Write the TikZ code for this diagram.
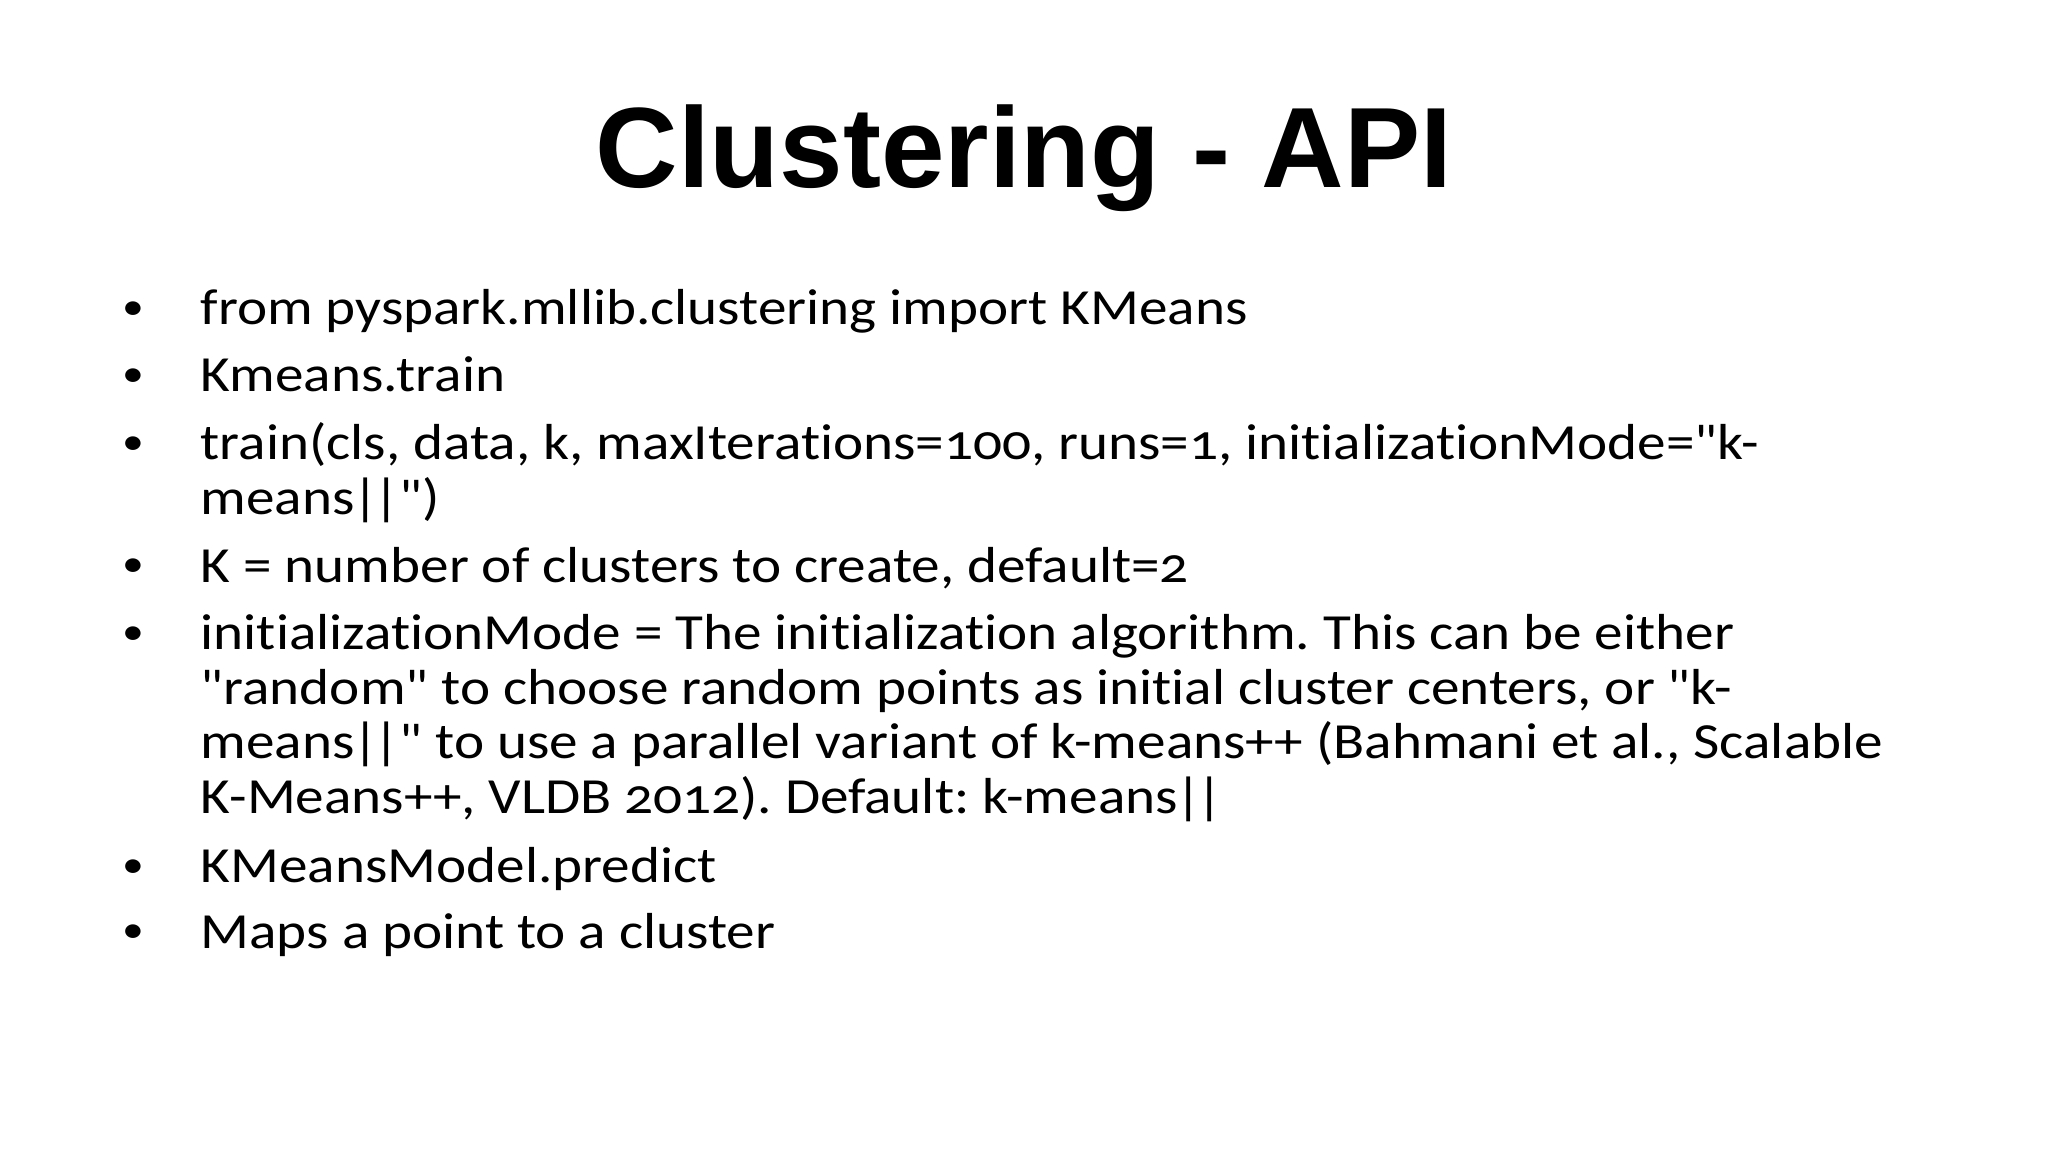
\documentclass[tikz,border=0pt]{standalone}
\usepackage{fontspec}
\setmainfont{Carlito}[Numbers=OldStyle,Ligatures={TeXOff,CommonOff},FakeStretch=1.13]
\newfontfamily\headfont{Liberation Sans}
\newcommand\dbar{\kern-0.05em|\kern-0.1em|}
\tikzset{
 headline/.style={font=\headfont\bfseries\fontsize{32.5}{33}\selectfont,inner sep=0pt,anchor=base},
 dot/.style={font=\fontsize{11}{12}\selectfont,inner sep=0pt,anchor=base,yshift=0.05cm},
 entry/.style={font=\fontsize{14.4}{15}\selectfont\frenchspacing,inner sep=0pt,anchor=base west},
 wrapped/.style={entry,yshift=-0.545cm}
}
\begin{document}
\begin{tikzpicture}
 \fill[white](0,0) rectangle (20.48,-11.52);
 \useasboundingbox (0,0) rectangle (20.48,-11.52);
 % title
 \node[headline] (head) at (10.24,-1.88) {Clustering - API};
 % bullets
 \node[dot] (b1) at (1.33,-3.25) {\textbullet};
 \node[dot] (b2) at (1.33,-3.92) {\textbullet};
 \node[dot] (b3) at (1.33,-4.60) {\textbullet};
 \node[dot] (b4) at (1.33,-5.82) {\textbullet};
 \node[dot] (b5) at (1.33,-6.50) {\textbullet};
 \node[dot] (b6) at (1.33,-8.82) {\textbullet};
 \node[dot] (b7) at (1.33,-9.48) {\textbullet};
 % items
 \node[entry] (i1) at (2.0,-3.25) {from pyspark.mllib.clustering import KMeans};
 \node[entry] (i2) at (2.0,-3.92) {Kmeans.train};
 \node[entry] (i3) at (2.0,-4.60) {train(cls, data, k, maxIterations=100, runs=1, initializationMode="k-};
 \node[wrapped] (i3b) at (i3.base west) {means\dbar")};
 \node[entry] (i4) at (2.0,-5.82) {K = number of clusters to create, default=2};
 \node[entry] (i5) at (2.0,-6.50) {initializationMode = The initialization algorithm. This can be either};
 \node[wrapped] (i5b) at (i5.base west) {"random" to choose random points as initial cluster centers, or "k-};
 \node[wrapped] (i5c) at (i5b.base west) {means\dbar" to use a parallel variant of k-means++ (Bahmani et al., Scalable};
 \node[wrapped] (i5d) at (i5c.base west) {K-Means++, VLDB 2012). Default: k-means\dbar};
 \node[entry] (i6) at (2.0,-8.82) {KMeansModel.predict};
 \node[entry] (i7) at (2.0,-9.48) {Maps a point to a cluster};
\end{tikzpicture}
\end{document}
